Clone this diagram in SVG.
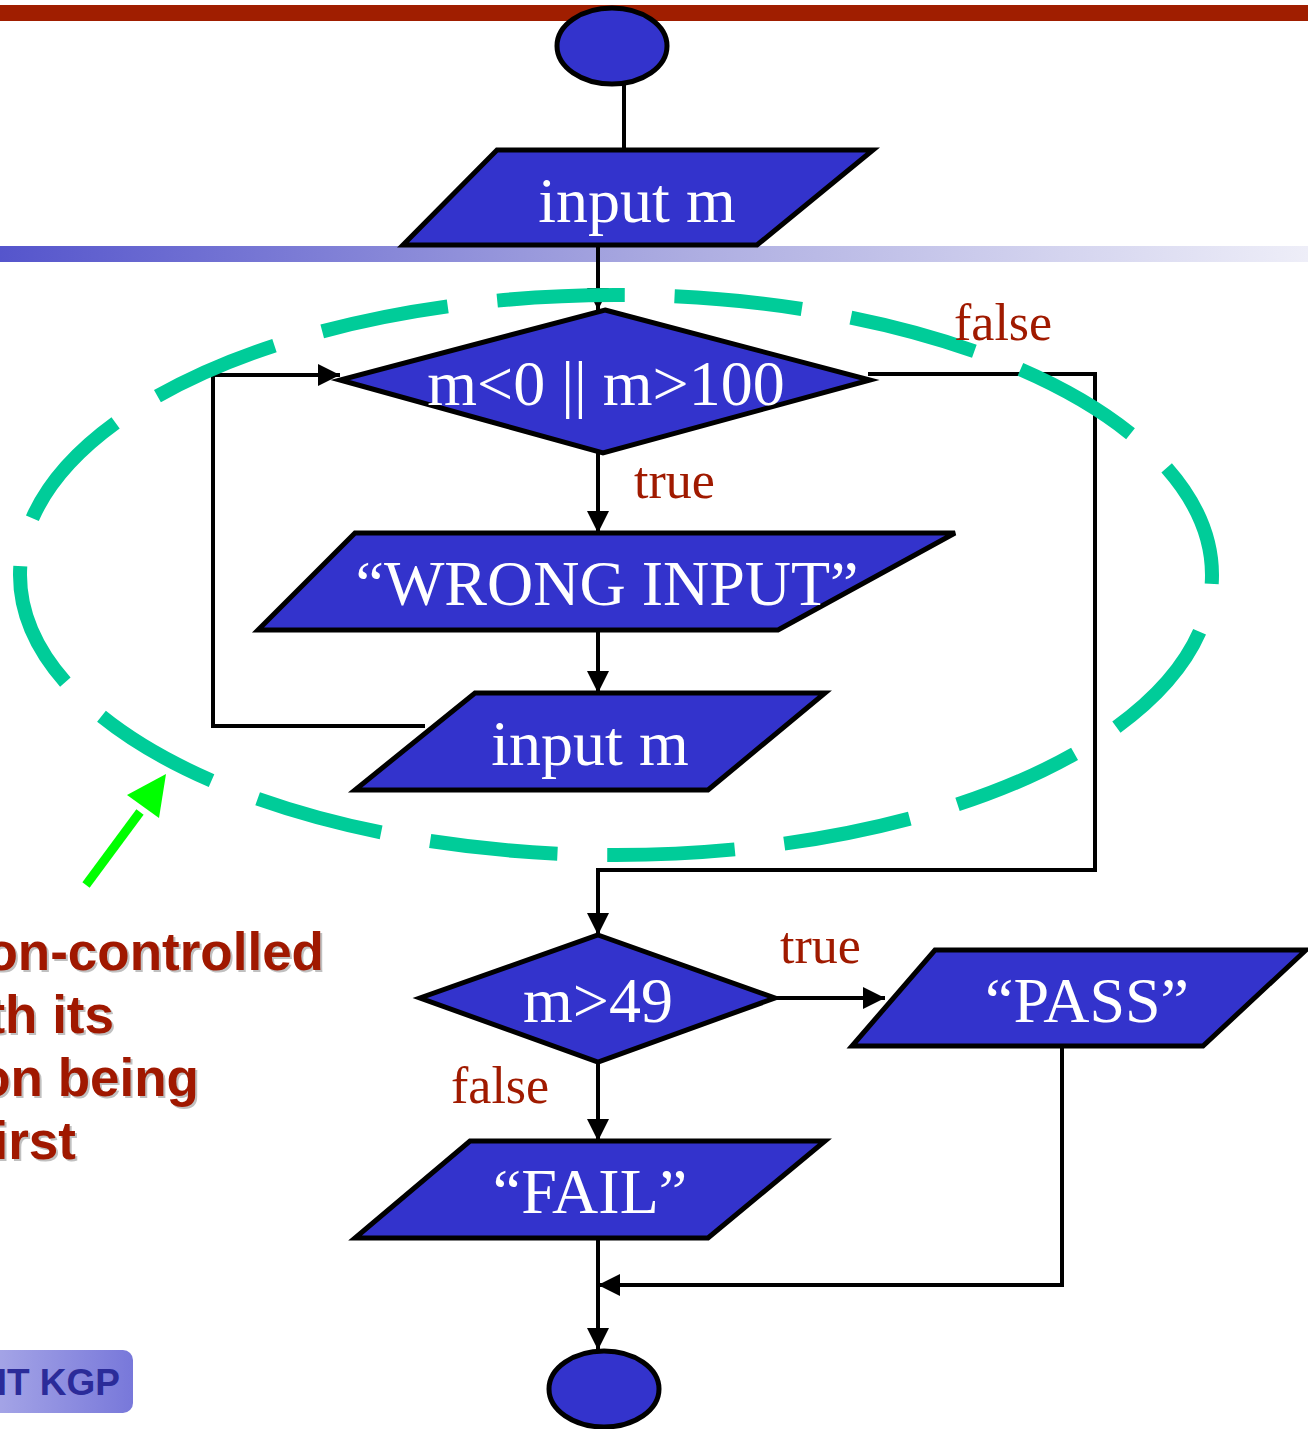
<svg xmlns="http://www.w3.org/2000/svg" width="1308" height="1429" viewBox="0 0 1308 1429">
<defs>
<linearGradient id="band" x1="0" y1="0" x2="1" y2="0">
<stop offset="0" stop-color="#5555CC"/>
<stop offset="0.5" stop-color="#A9A9E0"/>
<stop offset="1" stop-color="#EEEEF8"/>
</linearGradient>
<linearGradient id="badge" x1="0" y1="0" x2="1" y2="0">
<stop offset="0" stop-color="#AAAAE8"/>
<stop offset="1" stop-color="#7878DA"/>
</linearGradient>
<marker id="ah" markerUnits="userSpaceOnUse" markerWidth="22" markerHeight="22" refX="22" refY="11" orient="auto">
<path d="M0,0 L22,11 L0,22 z" fill="#000"/>
</marker>
</defs>
<style>
.shape{fill:#3333CC;stroke:#000;stroke-width:5;stroke-linejoin:miter}
.lbl{font-family:"Liberation Serif","Times New Roman",serif;font-size:64px;fill:#fff;text-anchor:middle}
.cond{font-family:"Liberation Serif","Times New Roman",serif;font-size:52px;fill:#A01A00}
.conn{fill:none;stroke:#000;stroke-width:4}
.note{font-family:"Liberation Sans",Arial,sans-serif;font-weight:bold;font-size:53px;fill:#A01800;text-anchor:end}
.shadow{font-family:"Liberation Sans",Arial,sans-serif;font-weight:bold;font-size:53px;fill:#C0C0C0;text-anchor:end}
</style>
<rect x="0" y="5" width="1308" height="16" fill="#A01E00"/>
<rect x="0" y="246" width="1308" height="16" fill="url(#band)"/>
<g id="connectors">
<line class="conn" x1="624" y1="84" x2="624" y2="150"/>
<line class="conn" x1="598" y1="245" x2="598" y2="310" marker-end="url(#ah)"/>
<line class="conn" x1="598" y1="453" x2="598" y2="533" marker-end="url(#ah)"/>
<line class="conn" x1="598" y1="630" x2="598" y2="693" marker-end="url(#ah)"/>
<path class="conn" d="M425 726 H213 V375 H340" marker-end="url(#ah)"/>
<path class="conn" d="M868 374 H1095 V870 H598 V935" marker-end="url(#ah)"/>
<line class="conn" x1="775" y1="998" x2="885" y2="998" marker-end="url(#ah)"/>
<line class="conn" x1="598" y1="1062" x2="598" y2="1141" marker-end="url(#ah)"/>
<path class="conn" d="M1062 1046 V1285 H598" marker-end="url(#ah)"/>
<line class="conn" x1="598" y1="1238" x2="598" y2="1350" marker-end="url(#ah)"/>
</g>
<g id="start"><ellipse class="shape" cx="612" cy="46" rx="55" ry="38"/></g>
<g id="input1"><polygon class="shape" points="497,150 873,150 757,245 403,245"/><text class="lbl" x="637" y="222">input m</text></g>
<g id="cond1"><polygon class="shape" points="605,310 870,380 603,453 340,380"/><text class="lbl" x="606" y="405">m&lt;0 || m&gt;100</text></g>
<g id="wrong"><polygon class="shape" points="355,533 955,533 778,630 258,630"/><text class="lbl" x="607" y="605">“WRONG INPUT”</text></g>
<g id="input2"><polygon class="shape" points="475,693 825,693 708,790 355,790"/><text class="lbl" x="590" y="765">input m</text></g>
<g id="cond2"><polygon class="shape" points="598,935 775,998 598,1062 420,998"/><text class="lbl" x="598" y="1022">m&gt;49</text></g>
<g id="pass"><polygon class="shape" points="935,950 1306,950 1203,1046 852,1046"/><text class="lbl" x="1087" y="1022">“PASS”</text></g>
<g id="fail"><polygon class="shape" points="470,1141 825,1141 708,1238 355,1238"/><text class="lbl" x="590" y="1213">“FAIL”</text></g>
<g id="end"><ellipse class="shape" cx="604" cy="1389" rx="55" ry="38"/></g>
<g id="loop-outline">
<path d="M616 295 A596 280 0 0 1 616 855 A596 280 0 0 1 616 295" fill="none" stroke="#00CC99" stroke-width="14" pathLength="1600" stroke-dasharray="72 28" stroke-dashoffset="67"/>
</g>
<g id="labels">
<text class="cond" x="954" y="340">false</text>
<text class="cond" x="634" y="498">true</text>
<text class="cond" x="780" y="963">true</text>
<text class="cond" x="451" y="1103">false</text>
</g>
<g id="pointer">
<line x1="86" y1="885" x2="140" y2="812" stroke="#00FF00" stroke-width="9"/>
<path d="M166,774 L159,818 L127,795 z" fill="#00FF00"/>
</g>
<g id="note">
<text class="shadow" x="326" y="972">on-controlled</text>
<text class="shadow" x="116" y="1035">th its</text>
<text class="shadow" x="201" y="1098">on being</text>
<text class="shadow" x="78" y="1161">irst</text>
<text class="note" x="324" y="970">on-controlled</text>
<text class="note" x="114" y="1033">th its</text>
<text class="note" x="199" y="1096">on being</text>
<text class="note" x="76" y="1159">irst</text>
</g>
<g id="badge-box">
<rect x="-20" y="1350" width="153" height="63" rx="10" fill="url(#badge)"/>
<text x="120" y="1395" font-family="'Liberation Sans',Arial,sans-serif" font-weight="bold" font-size="37" fill="#2B2B99" text-anchor="end">IT KGP</text>
</g>
</svg>
